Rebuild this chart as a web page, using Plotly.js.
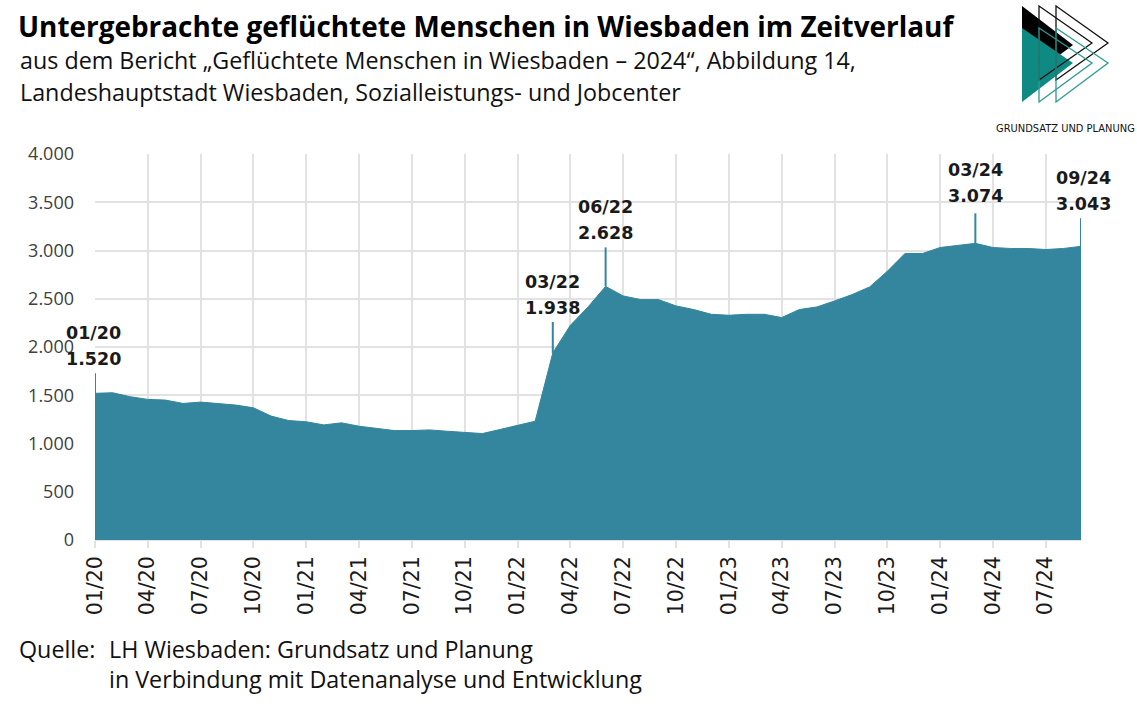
<!DOCTYPE html>
<html>
<head>
<meta charset="utf-8">
<script src="https://cdn.plot.ly/plotly-3.0.1.min.js"></script>
<style>html,body{margin:0;padding:0;background:#fff;}#chart{width:1137px;height:707px;}</style>
</head>
<body>
<div id="chart"></div>
<script>
// ---- data ----
const months = [
  "01/20","02/20","03/20","04/20","05/20","06/20","07/20","08/20","09/20","10/20","11/20","12/20",
  "01/21","02/21","03/21","04/21","05/21","06/21","07/21","08/21","09/21","10/21","11/21","12/21",
  "01/22","02/22","03/22","04/22","05/22","06/22","07/22","08/22","09/22","10/22","11/22","12/22",
  "01/23","02/23","03/23","04/23","05/23","06/23","07/23","08/23","09/23","10/23","11/23","12/23",
  "01/24","02/24","03/24","04/24","05/24","06/24","07/24","08/24","09/24"
];
const persons = [
  1520,1526,1485,1457,1450,1415,1429,1415,1398,1370,1284,1238,
  1225,1193,1214,1179,1155,1134,1134,1141,1127,1117,1103,1145,
  1186,1231,1938,2225,2415,2628,2529,2491,2491,2426,2388,2339,
  2329,2339,2339,2305,2388,2415,2477,2543,2623,2785,2969,2969,
  3031,3052,3074,3031,3021,3021,3010,3021,3043
];
const tickLabels = ["01/20","04/20","07/20","10/20","01/21","04/21","07/21","10/21","01/22","04/22",
  "07/22","10/22","01/23","04/23","07/23","10/23","01/24","04/24","07/24"];
const highlighted = ["01/20","03/22","06/22","03/24","09/24"];
const yTicks = [0,500,1000,1500,2000,2500,3000,3500,4000];

// ---- styling ----
const W = 1137, H = 707;
const M = {l:95, r:56, t:154, b:167, pad:0};
const leaderPx = {"01/20":20, "03/22":31, "06/22":39, "03/24":30, "09/24":28};
const labelShiftX = {"01/20":-2, "09/24":2};
const labelShiftY = {"03/24":3};
const TEAL = "#33869d";
const px = x => (x - M.l) / (W - M.l - M.r);
const py = y => (H - M.b - y) / (H - M.t - M.b);
const fmt = v => v.toLocaleString("de-DE");
const baseFont = "'Open Sans', 'Noto Sans', sans-serif";
const labelFont = {family:"'DejaVu Sans', Verdana, sans-serif", size:17.5, color:"#1a1a1a"};

const shapes = [];
const annotations = [];

highlighted.forEach(m => {
  const i = months.indexOf(m);
  const L = leaderPx[m];
  const extra = labelShiftY[m] || 0;
  shapes.push({type:"line", xref:"x", yref:"y", ysizemode:"pixel", yanchor:persons[i],
    x0:i, x1:i, y0:0, y1:L, line:{color:TEAL, width:2}, layer:"above"});
  annotations.push({xref:"x", yref:"y", x:i, y:persons[i], yanchor:"bottom", xanchor:"center",
    yshift:L + 2 + extra, xshift:labelShiftX[m] || 0, showarrow:false,
    text:"<b>" + fmt(persons[i]) + "</b>", font:labelFont});
  annotations.push({xref:"x", yref:"y", x:i, y:persons[i], yanchor:"bottom", xanchor:"center",
    yshift:L + 2 + extra + 26, xshift:labelShiftX[m] || 0, showarrow:false,
    text:"<b>" + m + "</b>", font:labelFont});
});

// subtitle & source
annotations.push({xref:"paper", yref:"paper", x:px(18), y:py(60), xanchor:"left", yanchor:"middle", showarrow:false,
  text:"aus dem Bericht „Geflüchtete Menschen in Wiesbaden – 2024“, Abbildung 14,", font:{family:baseFont, size:23.3, color:"#111"}});
annotations.push({xref:"paper", yref:"paper", x:px(18), y:py(92), xanchor:"left", yanchor:"middle", showarrow:false,
  text:"Landeshauptstadt Wiesbaden, Sozialleistungs- und Jobcenter", font:{family:baseFont, size:23.3, color:"#111"}});
annotations.push({xref:"paper", yref:"paper", x:px(17), y:py(649), xanchor:"left", yanchor:"middle", showarrow:false,
  text:"Quelle:", font:{family:baseFont, size:23.3, color:"#111"}});
annotations.push({xref:"paper", yref:"paper", x:px(107), y:py(649), xanchor:"left", yanchor:"middle", showarrow:false,
  text:"LH Wiesbaden: Grundsatz und Planung", font:{family:baseFont, size:23.3, color:"#111"}});
annotations.push({xref:"paper", yref:"paper", x:px(107), y:py(679), xanchor:"left", yanchor:"middle", showarrow:false,
  text:"in Verbindung mit Datenanalyse und Entwicklung", font:{family:baseFont, size:23.3, color:"#111"}});
// logo text
annotations.push({xref:"paper", yref:"paper", x:px(1065), y:py(128), xanchor:"center", yanchor:"middle", showarrow:false,
  text:"GRUNDSATZ UND PLANUNG", font:{family:"'DejaVu Sans Condensed', 'Liberation Sans Narrow', sans-serif", size:11, color:"#111"}});

// logo shapes (pixel coordinates converted to paper)
function tri(pts, fill, line) {
  const p = pts.map((q, k) => (k ? "L" : "M") + px(q[0]) + "," + py(q[1])).join(" ") + " Z";
  return {type:"path", xref:"paper", yref:"paper", path:p,
    fillcolor: fill || "rgba(0,0,0,0)", line: line || {width:0}, layer:"above"};
}
shapes.push(tri([[1022,6],[1073,45],[1022,83]], "#000"));
shapes.push(tri([[1022,28],[1073,63],[1022,102]], "#0e8a83"));
shapes.push(tri([[1039,6],[1092,43],[1039,80]], null, {color:"#111", width:1.3}));
shapes.push(tri([[1056,6],[1108,43],[1056,80]], null, {color:"#111", width:1.3}));
shapes.push(tri([[1039,28],[1092,63],[1039,102]], null, {color:"#2a9a92", width:1.3}));
shapes.push(tri([[1056,28],[1108,63],[1056,102]], null, {color:"#2a9a92", width:1.3}));

const trace = {
  type:"scatter", mode:"lines", x:months, y:persons,
  fill:"tozeroy", fillcolor:TEAL, line:{color:TEAL, width:1, shape:"linear"},
  hoverinfo:"x+y"
};

const layout = {
  width:W, height:H, margin:M, paper_bgcolor:"#fff", plot_bgcolor:"#fff",
  showlegend:false,
  title:{text:"<b>Untergebrachte geflüchtete Menschen in Wiesbaden im Zeitverlauf</b>",
    xref:"container", yref:"container", x:18/W, xanchor:"left", y:1 - 27/H, yanchor:"middle",
    font:{family:baseFont, size:27.9, color:"#000"}},
  xaxis:{type:"category", categoryorder:"array", categoryarray:months, range:[0, months.length - 1],
    tickmode:"array", tickvals:tickLabels, ticktext:tickLabels, tickangle:-90,
    showgrid:true, gridcolor:"#e2e2e2", gridwidth:2,
    ticks:"outside", ticklen:7, tickwidth:2, tickcolor:"#e2e2e2",
    showline:false, zeroline:false,
    tickfont:{family:"'DejaVu Sans', Verdana, sans-serif", size:20.5, color:"#1a1a1a"}},
  yaxis:{range:[0, 4000], tickmode:"array", tickvals:yTicks, ticktext:yTicks.map(fmt),
    showgrid:true, gridcolor:"#e2e2e2", gridwidth:2, zeroline:true, zerolinecolor:"#e2e2e2", zerolinewidth:2,
    ticks:"", ticklabelstandoff:20,
    tickfont:{family:baseFont, size:18, color:"#404040"}},
  shapes:shapes, annotations:annotations
};

Plotly.newPlot("chart", [trace], layout, {displayModeBar:false, staticPlot:true});
</script>
</body>
</html>
